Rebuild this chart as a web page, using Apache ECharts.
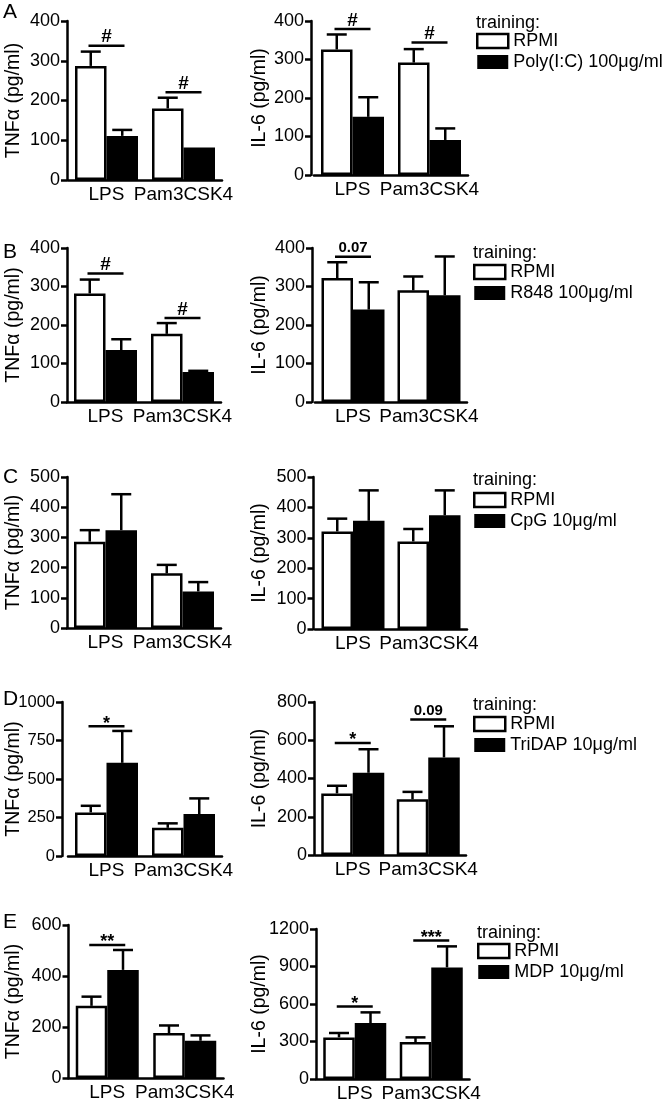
<!DOCTYPE html>
<html><head><meta charset="utf-8">
<script src="https://cdn.jsdelivr.net/npm/echarts@6/dist/echarts.min.js"></script>
<style>html,body{margin:0;padding:0;background:#fff}#c{width:666px;height:1099px}</style>
</head><body><div id="c"></div>
<script>
// ---------- data ----------
const categories = ['LPS', 'Pam3CSK4'];
const panelLetters = ['A', 'B', 'C', 'D', 'E'];
const controlName = 'RPMI';
const treatments = ['Poly(I:C) 100μg/ml', 'R848 100μg/ml', 'CpG 10μg/ml', 'TriDAP 10μg/ml', 'MDP 10μg/ml'];

// TNFα (pg/ml), per row [LPS, Pam3CSK4]
const tnfRpmi       = [[287, 180], [282, 177], [286, 181], [283, 183], [283, 176]];
const tnfRpmiErr    = [[323, 207], [318, 205], [324, 209], [326, 212], [319, 206]];
const tnfTrained    = [[111, 82], [135, 78], [324, 121], [605, 272], [424, 146]];
const tnfTrainedErr = [[126, 82], [163, 81], [443, 152], [812, 374], [502, 167]];
const tnfMax        = [400, 400, 500, 1000, 600];
const tnfInterval   = [100, 100, 100, 250, 200];
// significance marks: [category index, y value, label]
const tnfSig = [[[0, 338, '#'], [1, 221, '#']], [[0, 334, '#'], [1, 218, '#']], [], [[0, 843, '*']], [[0, 522, '**']]];

// IL-6 (pg/ml)
const il6Rpmi       = [[326, 292], [322, 290], [321, 288], [322, 291], [333, 296]];
const il6RpmiErr    = [[365, 327], [363, 326], [363, 329], [362, 330], [368, 333]];
const il6Trained    = [[151, 91], [240, 277], [356, 374], [430, 510], [448, 893]];
const il6TrainedErr = [[202, 121], [311, 378], [456, 456], [553, 673], [533, 1061]];
const il6Max        = [400, 400, 500, 800, 1200];
const il6Interval   = [100, 100, 100, 200, 300];
const il6Sig = [[[0, 379, '#'], [1, 344, '#']], [[0, 377, '0.07']], [], [[0, 586, '*'], [1, 708, '0.09']], [[0, 581, '*'], [1, 1109, '***']]];

// ---------- layout ----------
const FONT = '"Liberation Sans", Arial, Helvetica, sans-serif';
const BAR_W = 31.5;
const layout = [
  {L: {left: 68, width: 154, top: 21, bottom: 180, off: 1, lf: 18}, R: {left: 314, width: 154, top: 21, bottom: 175, off: 3, lf: 18}, legX: 476, legY: 41, trainY: 23, letterY: 12},
  {L: {left: 67, width: 154, top: 248, bottom: 402, off: 0, lf: 18}, R: {left: 315, width: 152, top: 248, bottom: 402, off: 3, lf: 18}, legX: 473, legY: 272, trainY: 253, letterY: 252},
  {L: {left: 67, width: 154, top: 477, bottom: 628, off: 0, lf: 18}, R: {left: 315, width: 152, top: 477, bottom: 629, off: 1.5, lf: 18}, legX: 473, legY: 500, trainY: 480, letterY: 477},
  {L: {left: 68, width: 154, top: 702, bottom: 856, off: 6, lf: 16.5}, R: {left: 315, width: 151, top: 702, bottom: 855, off: 1, lf: 18}, legX: 473, legY: 724, trainY: 705, letterY: 699},
  {L: {left: 68.5, width: 155, top: 925, bottom: 1078, off: 0, lf: 18}, R: {left: 316.5, width: 153, top: 929, bottom: 1079, off: 0.5, lf: 18}, legX: 477, legY: 951, trainY: 933, letterY: 922}
];

const grids = [], xAxes = [], yAxes = [], series = [], legends = [], graphics = [];

function addChart(gi, g, yName, yMax, yInt, rpmi, rpmiErr, trt, trtErr, trtName, sig, nameCenterX) {
  grids.push({left: g.left, top: g.top, width: g.width, height: g.bottom - g.top, containLabel: false, outerBoundsMode: 'none'});
  xAxes.push({
    type: 'category', gridIndex: gi, data: categories,
    axisLine: {lineStyle: {color: '#000', width: 2.5}},
    axisTick: {show: false},
    axisLabel: {color: '#000', fontSize: 19, fontFamily: FONT, margin: 5, interval: 0}
  });
  const axisX = g.left - g.off;
  yAxes.push({
    type: 'value', gridIndex: gi, min: 0, max: yMax, interval: yInt, offset: g.off,
    name: yName, nameLocation: 'middle', nameGap: axisX - nameCenterX - 10, nameMoveOverlap: false,
    nameTextStyle: {color: '#000', fontSize: 19.5, fontFamily: FONT},
    axisLine: {show: true, lineStyle: {color: '#000', width: 2.5}},
    axisTick: {show: true, length: 6, lineStyle: {color: '#000', width: 2.5}},
    axisLabel: {color: '#000', fontSize: g.lf, fontFamily: FONT, margin: 7, formatter: v => String(v), hideOverlap: false},
    splitLine: {show: false}
  });
  series.push({type: 'bar', name: controlName, xAxisIndex: gi, yAxisIndex: gi, data: rpmi, barWidth: BAR_W, barGap: '0%',
    itemStyle: {color: '#fff', borderColor: '#000', borderWidth: 2.5}, silent: true});
  series.push({type: 'bar', name: trtName, xAxisIndex: gi, yAxisIndex: gi, data: trt, barWidth: BAR_W, barGap: '0%',
    itemStyle: {color: '#000', borderColor: '#000', borderWidth: 2.5}, silent: true});
  const errData = [];
  rpmi.forEach((v, i) => errData.push([i, v, rpmiErr[i], -1]));
  trt.forEach((v, i) => errData.push([i, v, trtErr[i], 1]));
  series.push({
    type: 'custom', xAxisIndex: gi, yAxisIndex: gi, data: errData, z: 5, silent: true,
    renderItem: (params, api) => {
      const cat = api.value(0), mean = api.value(1), err = api.value(2), side = api.value(3);
      if (!(err > mean)) return null;
      const p0 = api.coord([cat, mean]);
      const p1 = api.coord([cat, err]);
      const x = p0[0] + side * BAR_W / 2;
      return {type: 'group', children: [
        {type: 'line', shape: {x1: x, y1: p0[1], x2: x, y2: p1[1]}, style: {stroke: '#000', lineWidth: 2.5}},
        {type: 'line', shape: {x1: x - 10, y1: p1[1], x2: x + 10, y2: p1[1]}, style: {stroke: '#000', lineWidth: 2.5}}
      ]};
    }
  });
  if (sig.length) {
    series.push({
      type: 'custom', xAxisIndex: gi, yAxisIndex: gi, data: sig.map(s => [s[0], s[1]]), z: 6, silent: true,
      renderItem: (params, api) => {
        const s = sig[params.dataIndex];
        const p = api.coord([s[0], s[1]]);
        const isStar = /^\*+$/.test(s[2]);
        const fs = isStar ? 18 : (s[2] === '#' ? 19 : 15);
        return {type: 'group', children: [
          {type: 'line', shape: {x1: p[0] - 18, y1: p[1], x2: p[0] + 18, y2: p[1]}, style: {stroke: '#000', lineWidth: 2.5}},
          {type: 'text', x: p[0], y: p[1] + (isStar ? -2.5 : -8.5),
            style: {text: s[2], fill: '#000', font: 'bold ' + fs + 'px ' + FONT, align: 'center', verticalAlign: 'middle'}}
        ]};
      }
    });
  }
}

layout.forEach((row, r) => {
  addChart(r * 2, row.L, 'TNFα (pg/ml)', tnfMax[r], tnfInterval[r], tnfRpmi[r], tnfRpmiErr[r], tnfTrained[r], tnfTrainedErr[r], treatments[r], tnfSig[r], 13.5);
  addChart(r * 2 + 1, row.R, 'IL-6 (pg/ml)', il6Max[r], il6Interval[r], il6Rpmi[r], il6RpmiErr[r], il6Trained[r], il6TrainedErr[r], treatments[r], il6Sig[r], 260);
  legends.push({
    orient: 'vertical', left: row.legX, top: row.legY - 9, padding: 0,
    itemWidth: 31, itemHeight: 14, itemGap: 3, itemTextGap: 0, selectedMode: false,
    textStyle: {color: '#000', fontSize: 18, lineHeight: 18, fontFamily: FONT},
    data: [
      {name: controlName, icon: 'rect', itemStyle: {color: '#fff', borderColor: '#000', borderWidth: 2.5}},
      {name: treatments[r], icon: 'rect', itemStyle: {color: '#000', borderColor: '#000', borderWidth: 0}}
    ]
  });
  graphics.push({type: 'text', x: row.legX, y: row.trainY, style: {text: 'training:', fill: '#000', font: '18px ' + FONT, verticalAlign: 'middle'}});
  graphics.push({type: 'text', x: 3, y: row.letterY, style: {text: panelLetters[r], fill: '#000', font: '21px ' + FONT, verticalAlign: 'middle'}});
});

const chart = echarts.init(document.getElementById('c'), null, {renderer: 'canvas'});
chart.setOption({
  animation: false,
  backgroundColor: '#fff',
  grid: grids, xAxis: xAxes, yAxis: yAxes, series: series, legend: legends,
  graphic: {elements: graphics}
});
</script>
</body></html>
